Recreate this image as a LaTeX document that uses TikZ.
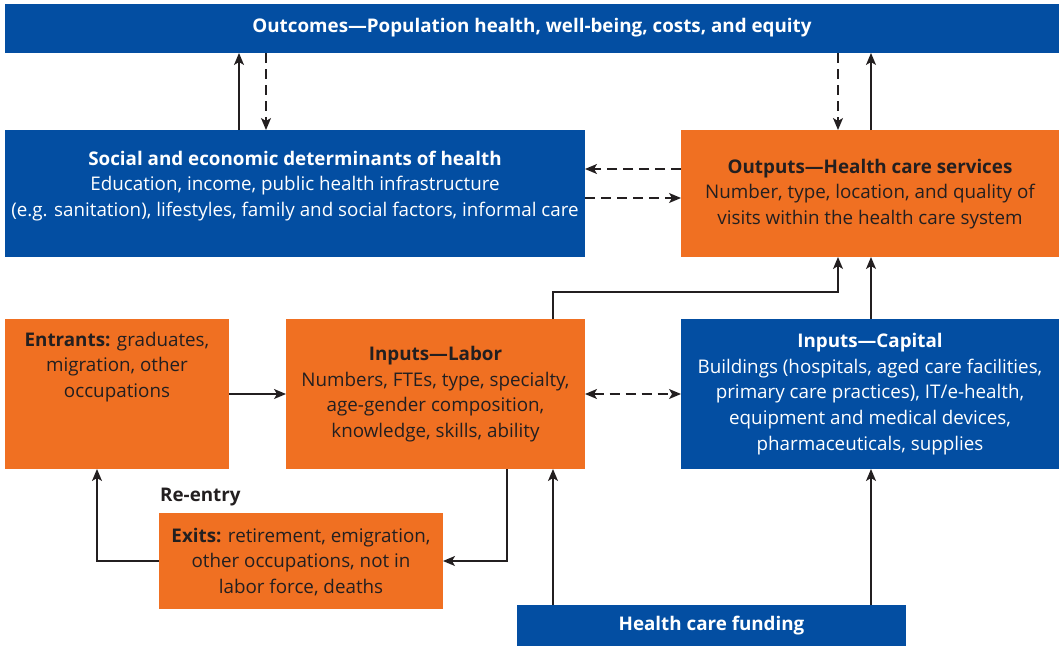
\documentclass[tikz,border=0pt]{standalone}
\usepackage{fontspec}
\setmainfont{Open Sans}
\usetikzlibrary{arrows.meta}
\definecolor{hblue}{HTML}{034EA2}
\definecolor{horange}{HTML}{F07022}
\definecolor{hdark}{HTML}{231F20}
\begin{document}
\begin{tikzpicture}[x=1pt,y=-1pt,
  bluebox/.style={fill=hblue,draw=none,inner sep=0pt,outer sep=0pt},
  orangebox/.style={fill=horange,draw=none,inner sep=0pt,outer sep=0pt},
  wtext/.style={text=white,align=center,inner sep=0pt,font=\fontsize{18.8}{25.6}\selectfont},
  dtext/.style={text=hdark,align=center,inner sep=0pt,font=\fontsize{18.8}{25.6}\selectfont},
  tip/.tip={Stealth[length=12pt,width=10pt,inset=3pt]},
  arr/.style={draw=hdark,line width=1.3pt,-tip},
  darr/.style={arr,dash pattern=on 10pt off 6pt},
  ddarr/.style={darr,tip-tip}
]
\useasboundingbox (0,0) rectangle (1059,646);
% boxes
\node[bluebox,minimum width=1054pt,minimum height=49pt] (outc) at (532,28.5) {};
\node[bluebox,minimum width=580pt,minimum height=127pt] (soc) at (295,193.5) {};
\node[orangebox,minimum width=378pt,minimum height=127pt] (outp) at (870,193.5) {};
\node[orangebox,minimum width=224pt,minimum height=150pt] (ent) at (117,394) {};
\node[orangebox,minimum width=299pt,minimum height=150pt] (lab) at (435.5,394) {};
\node[bluebox,minimum width=378pt,minimum height=150pt] (cap) at (870,394) {};
\node[orangebox,minimum width=284pt,minimum height=96pt] (exi) at (301,561) {};
\node[bluebox,minimum width=389pt,minimum height=41pt] (fund) at (711.5,625.5) {};
% texts
\node[wtext] (outct) at (532,28) {\bfseries Outcomes—Population health, well-being, costs, and equity};
\node[wtext] (soct) at (295,186) {\bfseries Social and economic determinants of health\\Education, income, public health infrastructure\\(e.g. sanitation), lifestyles, family and social factors, informal care};
\node[dtext] (outpt) at (870,194) {\bfseries Outputs—Health care services\\Number, type, location, and quality of\\visits within the health care system};
\node[dtext] (entt) at (117,367) {\textbf{Entrants:} graduates,\\migration, other\\occupations};
\node[dtext] (labt) at (435.5,394) {\bfseries Inputs—Labor\\Numbers, FTEs, type, specialty,\\age-gender composition,\\knowledge, skills, ability};
\node[wtext] (capt) at (870,394) {\bfseries Inputs—Capital\\Buildings (hospitals, aged care facilities,\\primary care practices), IT/e-health,\\equipment and medical devices,\\pharmaceuticals, supplies};
\node[dtext] (exit) at (301,562) {\textbf{Exits:} retirement, emigration,\\other occupations, not in\\labor force, deaths};
\node[dtext,anchor=west] (reent) at (160,497) {\bfseries Re-entry};
\node[wtext] (fundt) at (711.5,626) {\bfseries Health care funding};
% helper coordinates
\coordinate (cA) at (239,0);
\coordinate (cB) at (266,0);
\coordinate (cC) at (838,0);
\coordinate (cD) at (871,0);
\coordinate (cE) at (0,169);
\coordinate (cF) at (0,198);
\coordinate (cG) at (553,292);
\coordinate (cJ) at (507,0);
\coordinate (cK) at (97,0);
% connectors
\draw[arr] (soc.north -| cA) -- (outc.south -| cA);
\draw[darr] (outc.south -| cB) -- (soc.north -| cB);
\draw[darr] (outc.south -| cC) -- (outp.north -| cC);
\draw[arr] (outp.north -| cD) -- (outc.south -| cD);
\draw[darr] (outp.west |- cE) -- (soc.east |- cE);
\draw[darr] (soc.east |- cF) -- (outp.west |- cF);
\draw[arr] (lab.north -| cG) -- (cG) -| (outp.south -| cC);
\draw[arr] (cap.north -| cD) -- (outp.south -| cD);
\draw[arr] (ent.east) -- (lab.west);
\draw[ddarr] (lab.east) -- (cap.west);
\draw[arr] (lab.south -| cJ) |- (exi.east);
\draw[arr] (exi.west) -| (ent.south -| cK);
\draw[arr] (fund.north -| cG) -- (lab.south -| cG);
\draw[arr] (fund.north -| cD) -- (cap.south -| cD);
\end{tikzpicture}
\end{document}
